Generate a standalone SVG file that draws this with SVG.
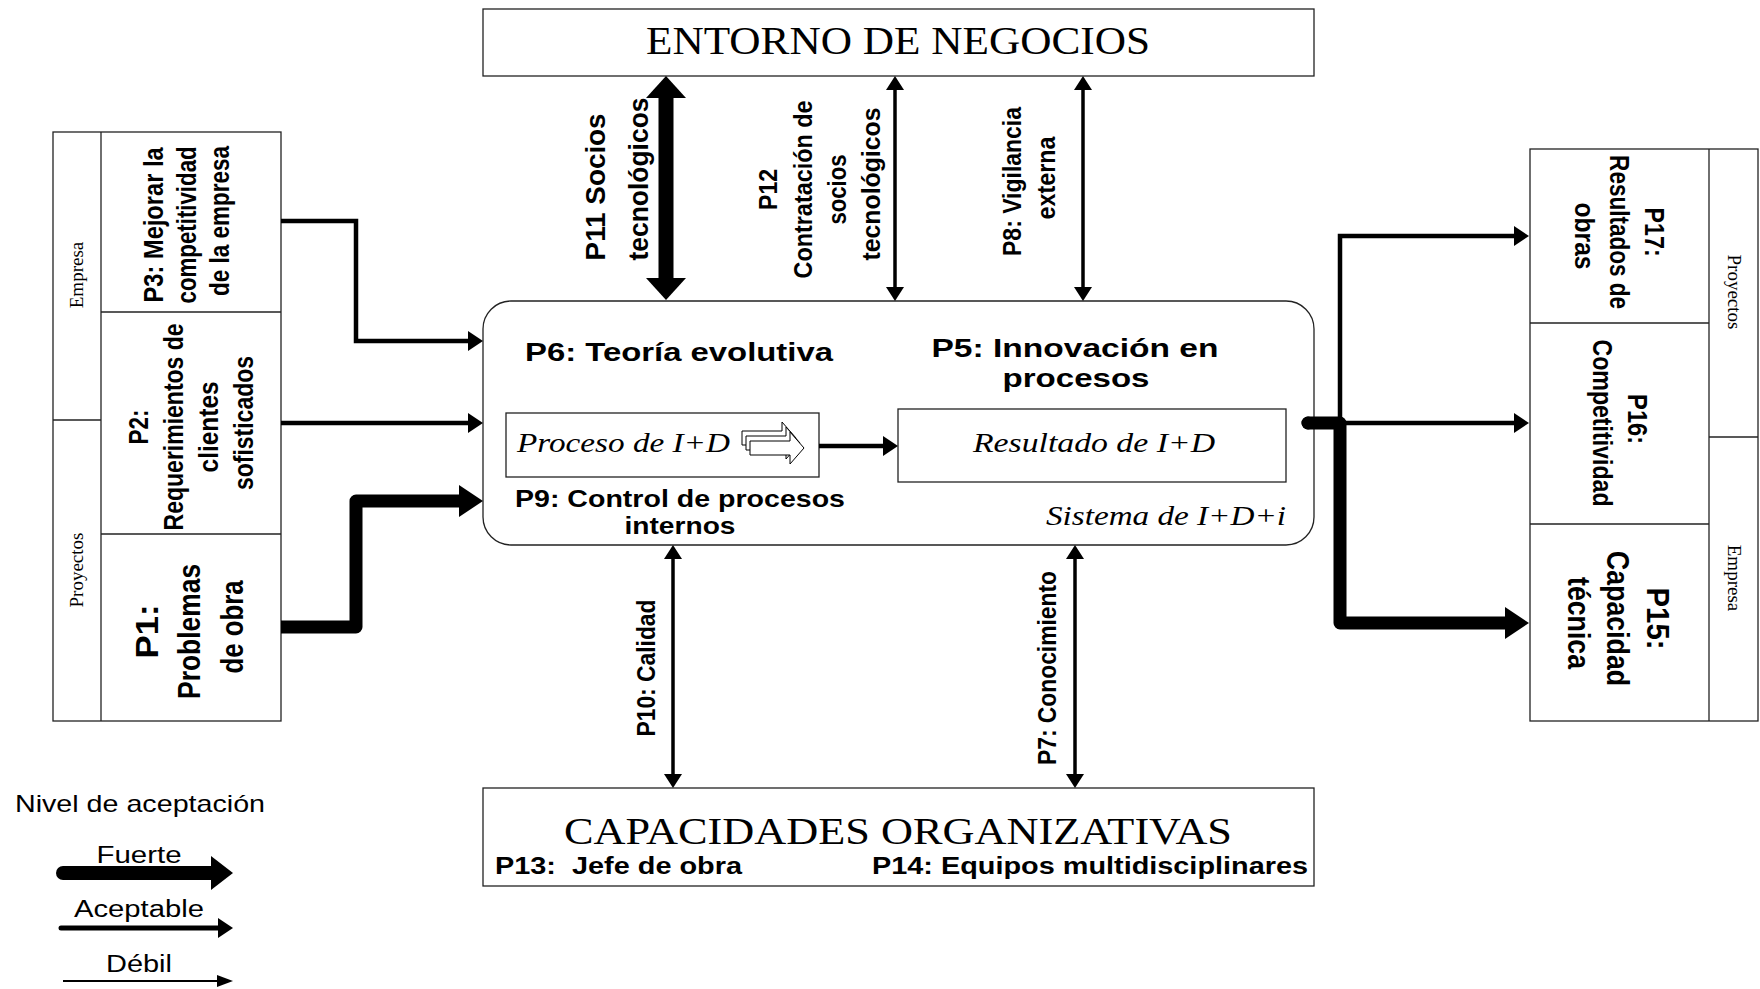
<svg xmlns="http://www.w3.org/2000/svg" width="1760" height="989" viewBox="0 0 1760 989">
<style>
.box{fill:#fff;stroke:#222;stroke-width:1.3}
.div{stroke:#222;stroke-width:1.3;fill:none}
.sb{font-family:"Liberation Sans",Arial,sans-serif;font-weight:bold;fill:#000}
.sr{font-family:"Liberation Sans",Arial,sans-serif;fill:#000}
.se{font-family:"Liberation Serif","Times New Roman",serif;fill:#000}
.it{font-family:"Liberation Serif","Times New Roman",serif;font-style:italic;fill:#000}
.c{fill:none;stroke:#000}
.thick{stroke-width:13;stroke-linejoin:round;stroke-linecap:round}
.med{stroke-width:4.5}
.thn{stroke-width:3.5}
</style>
<defs>
<marker id="mThick" markerUnits="userSpaceOnUse" orient="auto-start-reverse" refX="0" refY="0" markerWidth="40" markerHeight="40" overflow="visible"><path d="M0,-16 L24,0 L0,16 Z" fill="#000"/></marker>
<marker id="mBig" markerUnits="userSpaceOnUse" orient="auto-start-reverse" refX="0" refY="0" markerWidth="40" markerHeight="40" overflow="visible"><path d="M0,-20 L22,0 L0,20 Z" fill="#000"/></marker>
<marker id="mMed" markerUnits="userSpaceOnUse" orient="auto-start-reverse" refX="0" refY="0" markerWidth="30" markerHeight="30" overflow="visible"><path d="M0,-10 L15,0 L0,10 Z" fill="#000"/></marker>
<marker id="mThn" markerUnits="userSpaceOnUse" orient="auto-start-reverse" refX="0" refY="0" markerWidth="30" markerHeight="30" overflow="visible"><path d="M0,-9 L14,0 L0,9 Z" fill="#000"/></marker>
<marker id="mWeak" markerUnits="userSpaceOnUse" orient="auto" refX="0" refY="0" markerWidth="30" markerHeight="30" overflow="visible"><path d="M0,-6 L16,0 L0,6 Z" fill="#000"/></marker>
<marker id="mLegT" markerUnits="userSpaceOnUse" orient="auto" refX="0" refY="0" markerWidth="40" markerHeight="40" overflow="visible"><path d="M0,-17 L22,0 L0,17 Z" fill="#000"/></marker>
<path id="blk" d="M0,0 H40 V-9 L54,7 L40,23 V14 H0 Z" fill="#fff" stroke="#000" stroke-width="1"/>
</defs>

<g id="entorno">
<rect class="box" x="483" y="9" width="831" height="67"/>
<text class="se" x="898" y="54" font-size="40" text-anchor="middle" textLength="504" lengthAdjust="spacingAndGlyphs">ENTORNO DE NEGOCIOS</text>
</g>

<g id="capacidades">
<rect class="box" x="483" y="788" width="831" height="98"/>
<text class="se" x="898" y="844" font-size="38" text-anchor="middle" textLength="668" lengthAdjust="spacingAndGlyphs">CAPACIDADES ORGANIZATIVAS</text>
<text class="sb" x="495" y="874" font-size="23" textLength="247" lengthAdjust="spacingAndGlyphs" xml:space="preserve">P13:  Jefe de obra</text>
<text class="sb" x="1308" y="874" font-size="23" text-anchor="end" textLength="436" lengthAdjust="spacingAndGlyphs">P14: Equipos multidisciplinares</text>
</g>

<g id="sistema">
<rect class="box" x="483" y="301" width="831" height="244" rx="28" ry="28"/>
<text class="sb" x="679" y="361" font-size="26" text-anchor="middle" textLength="308" lengthAdjust="spacingAndGlyphs">P6: Teoría evolutiva</text>
<text class="sb" x="1075" y="357" font-size="26" text-anchor="middle" textLength="287" lengthAdjust="spacingAndGlyphs">P5: Innovación en</text>
<text class="sb" x="1076" y="387" font-size="26" text-anchor="middle" textLength="147" lengthAdjust="spacingAndGlyphs">procesos</text>
<text class="sb" x="680" y="507" font-size="24" text-anchor="middle" textLength="330" lengthAdjust="spacingAndGlyphs">P9: Control de procesos</text>
<text class="sb" x="680" y="534" font-size="24" text-anchor="middle" textLength="111" lengthAdjust="spacingAndGlyphs">internos</text>
<text class="it" x="1286" y="525" font-size="28" text-anchor="end" textLength="240" lengthAdjust="spacingAndGlyphs">Sistema de I+D+i</text>
</g>

<g id="proceso">
<rect class="box" x="506" y="413" width="313" height="64"/>
<text class="it" x="517" y="452" font-size="28" textLength="213" lengthAdjust="spacingAndGlyphs">Proceso de I+D</text>
<use href="#blk" x="742" y="431"/>
<use href="#blk" x="746" y="436"/>
<use href="#blk" x="750" y="441"/>
</g>

<g id="resultado">
<rect class="box" x="898" y="409" width="388" height="73"/>
<text class="it" x="1094" y="452" font-size="28" text-anchor="middle" textLength="242" lengthAdjust="spacingAndGlyphs">Resultado de I+D</text>
</g>

<g id="left-panel">
<rect class="box" x="53" y="132" width="228" height="589"/>
<line class="div" x1="101" y1="132" x2="101" y2="721"/>
<line class="div" x1="53" y1="420" x2="101" y2="420"/>
<line class="div" x1="101" y1="312" x2="281" y2="312"/>
<line class="div" x1="101" y1="534" x2="281" y2="534"/>
<text class="se" transform="rotate(-90)" x="-275" y="83" font-size="19" text-anchor="middle">Empresa</text>
<text class="se" transform="rotate(-90)" x="-570" y="83" font-size="19" text-anchor="middle">Proyectos</text>
</g>

<g id="p3">
<text class="sb" transform="rotate(-90)" font-size="28" text-anchor="middle">
<tspan x="-221" y="163" textLength="155" lengthAdjust="spacingAndGlyphs">P3: Mejorar la</tspan>
<tspan x="-221" y="196" textLength="157" lengthAdjust="spacingAndGlyphs">competitividad</tspan>
<tspan x="-221" y="229" textLength="150" lengthAdjust="spacingAndGlyphs">de la empresa</tspan>
</text>
</g>
<g id="p2">
<text class="sb" transform="rotate(-90)" font-size="28" text-anchor="middle">
<tspan x="-423" y="148" textLength="35" lengthAdjust="spacingAndGlyphs">P2:</tspan>
<tspan x="-423" y="183" textLength="207" lengthAdjust="spacingAndGlyphs">Requerimientos de</tspan>
<tspan x="-423" y="218" textLength="91" lengthAdjust="spacingAndGlyphs">clientes</tspan>
<tspan x="-423" y="253" textLength="134" lengthAdjust="spacingAndGlyphs">sofisticados</tspan>
</text>
</g>
<g id="p1">
<text class="sb" transform="rotate(-90)" font-size="32" text-anchor="middle">
<tspan x="-627" y="158" textLength="54" lengthAdjust="spacingAndGlyphs">P1:</tspan>
<tspan x="-627" y="200" textLength="135" lengthAdjust="spacingAndGlyphs">Problemas</tspan>
<tspan x="-627" y="243" textLength="93" lengthAdjust="spacingAndGlyphs">de obra</tspan>
</text>
</g>

<g id="right-panel">
<rect class="box" x="1530" y="149" width="228" height="572"/>
<line class="div" x1="1709" y1="149" x2="1709" y2="721"/>
<line class="div" x1="1709" y1="437" x2="1758" y2="437"/>
<line class="div" x1="1530" y1="323" x2="1709" y2="323"/>
<line class="div" x1="1530" y1="524" x2="1709" y2="524"/>
<text class="se" transform="rotate(90)" x="292" y="-1728" font-size="19" text-anchor="middle">Proyectos</text>
<text class="se" transform="rotate(90)" x="578" y="-1728" font-size="19" text-anchor="middle">Empresa</text>
</g>
<g id="p17">
<text class="sb" transform="rotate(90)" font-size="28" text-anchor="middle">
<tspan x="236" y="-1645" textLength="49" lengthAdjust="spacingAndGlyphs">P17:</tspan>
<tspan x="236" y="-1610" textLength="154" lengthAdjust="spacingAndGlyphs">Resultados de</tspan>
<tspan x="236" y="-1575" textLength="67" lengthAdjust="spacingAndGlyphs">obras</tspan>
</text>
</g>
<g id="p16">
<text class="sb" transform="rotate(90)" font-size="28" text-anchor="middle">
<tspan x="423" y="-1628" textLength="50" lengthAdjust="spacingAndGlyphs">P16:</tspan>
<tspan x="423" y="-1593" textLength="167" lengthAdjust="spacingAndGlyphs">Competitividad</tspan>
</text>
</g>
<g id="p15">
<text class="sb" transform="rotate(90)" font-size="32" text-anchor="middle">
<tspan x="623" y="-1647" textLength="62" lengthAdjust="spacingAndGlyphs">P15:</tspan>
<tspan x="623" y="-1607" textLength="135" lengthAdjust="spacingAndGlyphs">Capacidad</tspan>
<tspan x="623" y="-1568" textLength="92" lengthAdjust="spacingAndGlyphs">técnica</tspan>
</text>
</g>

<g id="connectors">
<path class="c med" d="M281,221 H356 V341 H468" marker-end="url(#mMed)"/>
<path class="c med" d="M281,423 H468" marker-end="url(#mMed)"/>
<path class="c" d="M281,627 H356 V501 H459" stroke-width="13" stroke-linejoin="round" marker-end="url(#mThick)"/>
<path class="c" d="M666,98 V278" stroke-width="15" marker-start="url(#mBig)" marker-end="url(#mBig)"/>
<path class="c thn" d="M895,90 V287" marker-start="url(#mThn)" marker-end="url(#mThn)"/>
<path class="c thn" d="M1083,90 V287" marker-start="url(#mThn)" marker-end="url(#mThn)"/>
<path class="c thn" d="M673,559 V774" marker-start="url(#mThn)" marker-end="url(#mThn)"/>
<path class="c thn" d="M1075,559 V774" marker-start="url(#mThn)" marker-end="url(#mThn)"/>
<path class="c med" d="M819,446 H883" marker-end="url(#mMed)"/>
<path class="c med" d="M1340,423 V236 H1514" marker-end="url(#mMed)"/>
<path class="c med" d="M1340,423 H1514" marker-end="url(#mMed)"/>
<path class="c thick" d="M1308,423 H1340 V623 H1505" stroke-linecap="butt" marker-end="url(#mThick)"/>
<circle cx="1308" cy="423" r="6.5" fill="#000"/>
</g>

<g id="top-labels">
<text class="sb" transform="rotate(-90)" font-size="28" text-anchor="middle">
<tspan x="-183" y="605" textLength="147" lengthAdjust="spacingAndGlyphs">P11 Socios</tspan>
<tspan x="-179" y="648" textLength="163" lengthAdjust="spacingAndGlyphs">tecnológicos</tspan>
</text>
<text class="sb" transform="rotate(-90)" font-size="25" text-anchor="middle">
<tspan x="-186" y="777" textLength="41" lengthAdjust="spacingAndGlyphs">P12</tspan>
<tspan x="-186" y="812" textLength="178" lengthAdjust="spacingAndGlyphs">Contratación de</tspan>
<tspan x="-186" y="846" textLength="70" lengthAdjust="spacingAndGlyphs">socios</tspan>
<tspan x="-184" y="880" textLength="153" lengthAdjust="spacingAndGlyphs">tecnológicos</tspan>
</text>
<text class="sb" transform="rotate(-90)" font-size="25" text-anchor="middle">
<tspan x="-178" y="1021" textLength="149" lengthAdjust="spacingAndGlyphs">P8: Vigilancia</tspan>
<tspan x="-178" y="1055" textLength="83" lengthAdjust="spacingAndGlyphs">externa</tspan>
</text>
<text class="sb" transform="rotate(-90)" x="-668" y="655" font-size="25" text-anchor="middle" textLength="137" lengthAdjust="spacingAndGlyphs">P10: Calidad</text>
<text class="sb" transform="rotate(-90)" x="-668" y="1056" font-size="25" text-anchor="middle" textLength="194" lengthAdjust="spacingAndGlyphs">P7: Conocimiento</text>
</g>

<g id="legend">
<text class="sr" x="15" y="812" font-size="24" textLength="250" lengthAdjust="spacingAndGlyphs">Nivel de aceptación</text>
<text class="sr" x="139" y="863" font-size="23" text-anchor="middle" textLength="85" lengthAdjust="spacingAndGlyphs">Fuerte</text>
<path class="c" d="M63,873 H211" stroke-width="14" stroke-linecap="round" marker-end="url(#mLegT)"/>
<text class="sr" x="139" y="917" font-size="23" text-anchor="middle" textLength="130" lengthAdjust="spacingAndGlyphs">Aceptable</text>
<path class="c" d="M61,928 H218" stroke-width="5" stroke-linecap="round" marker-end="url(#mMed)"/>
<text class="sr" x="139" y="972" font-size="23" text-anchor="middle" textLength="66" lengthAdjust="spacingAndGlyphs">Débil</text>
<path class="c" d="M63,981 H217" stroke-width="1.8" marker-end="url(#mWeak)"/>
</g>
</svg>
